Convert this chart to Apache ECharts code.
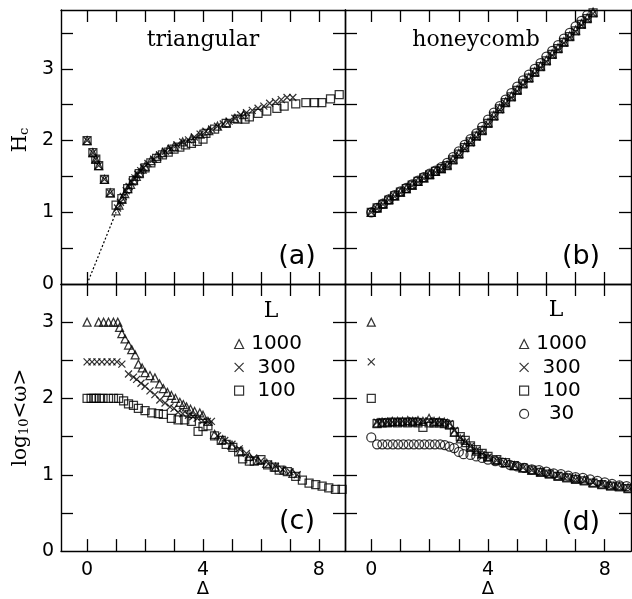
<!DOCTYPE html>
<html>
<head>
<meta charset="utf-8">
<title>Hc and log10 omega vs Delta</title>
<script src="https://cdn.jsdelivr.net/npm/echarts@6/dist/echarts.min.js"></script>
<style>
html, body { margin: 0; padding: 0; background: #fff; }
#chart { width: 632px; height: 599px; }
</style>
</head>
<body>
<div id="chart"></div>
<script>
// axis ticks and labels
var tickX = [0, 1, 2, 3, 4, 5, 6, 7, 8];
var labelX = [0, 4, 8];
var tickYTop = [0.5, 1, 1.5, 2, 2.5, 3, 3.5];
var tickYBottom = [0.5, 1, 1.5, 2, 2.5, 3];
var labelY = [0, 1, 2, 3];

// (a) triangular, Hc
var aDelta1000 = [0, 0.2, 0.3, 0.4, 0.6, 0.8, 1.0, 1.1, 1.2, 1.3, 1.4, 1.5, 1.6, 1.7, 1.8, 1.9, 2.0, 2.2, 2.4, 2.6, 2.8, 3.0, 3.3, 3.6, 3.9, 4.2, 4.5, 4.8, 5.1, 5.4];
var aH1000 = [2.0, 1.83, 1.74, 1.65, 1.46, 1.27, 1.02, 1.10, 1.18, 1.26, 1.33, 1.39, 1.45, 1.50, 1.55, 1.60, 1.64, 1.72, 1.78, 1.83, 1.88, 1.92, 1.98, 2.03, 2.09, 2.14, 2.20, 2.25, 2.31, 2.36];
var aDelta300 = [0, 0.2, 0.3, 0.4, 0.6, 0.8, 1.05, 1.15, 1.25, 1.35, 1.45, 1.55, 1.65, 1.75, 1.85, 1.95, 2.1, 2.3, 2.5, 2.7, 2.9, 3.1, 3.3, 3.5, 3.7, 3.9, 4.1, 4.3, 4.5, 4.7, 4.9, 5.1, 5.3, 5.5, 5.7, 5.9, 6.1, 6.3, 6.5, 6.7, 6.9, 7.1];
var aH300 = [2.0, 1.83, 1.74, 1.65, 1.46, 1.27, 1.06, 1.14, 1.22, 1.30, 1.36, 1.42, 1.48, 1.53, 1.58, 1.62, 1.68, 1.74, 1.80, 1.85, 1.89, 1.94, 1.98, 2.01, 2.05, 2.09, 2.13, 2.16, 2.20, 2.23, 2.27, 2.31, 2.36, 2.39, 2.42, 2.45, 2.48, 2.52, 2.54, 2.57, 2.60, 2.60];
var aDelta100 = [0, 0.2, 0.3, 0.4, 0.6, 0.8, 1.0, 1.2, 1.4, 1.6, 1.8, 2.0, 2.2, 2.4, 2.6, 2.8, 3.0, 3.2, 3.4, 3.6, 3.8, 4.0, 4.1, 4.4, 4.8, 5.2, 5.45, 5.6, 5.9, 6.2, 6.55, 6.8, 7.2, 7.55, 7.85, 8.1, 8.4, 8.7];
var aH100 = [2.0, 1.83, 1.74, 1.65, 1.46, 1.27, 1.10, 1.19, 1.33, 1.44, 1.54, 1.62, 1.69, 1.75, 1.80, 1.84, 1.88, 1.91, 1.94, 1.96, 1.99, 2.02, 2.10, 2.16, 2.24, 2.30, 2.30, 2.33, 2.38, 2.41, 2.45, 2.48, 2.51, 2.53, 2.53, 2.53, 2.58, 2.64];
var aGuideDelta = [0, 1];
var aGuideH = [0, 1];

// (b) honeycomb, Hc
var bDelta = [0, 0.2, 0.4, 0.6, 0.8, 1.0, 1.2, 1.4, 1.6, 1.8, 2.0, 2.2, 2.4, 2.6, 2.8, 3.0, 3.2, 3.4, 3.6, 3.8, 4.0, 4.2, 4.4, 4.6, 4.8, 5.0, 5.2, 5.4, 5.6, 5.8, 6.0, 6.2, 6.4, 6.6, 6.8, 7.0, 7.2, 7.4, 7.6, 7.8];
var bH1000 = [1.00, 1.06, 1.12, 1.18, 1.23, 1.28, 1.33, 1.38, 1.43, 1.48, 1.53, 1.57, 1.61, 1.66, 1.74, 1.82, 1.91, 1.99, 2.07, 2.15, 2.25, 2.35, 2.45, 2.54, 2.62, 2.71, 2.80, 2.88, 2.96, 3.04, 3.12, 3.21, 3.29, 3.38, 3.46, 3.54, 3.63, 3.71, 3.79, 3.87];
var bH300 = [1.00, 1.05, 1.11, 1.17, 1.22, 1.27, 1.32, 1.37, 1.42, 1.47, 1.52, 1.56, 1.60, 1.65, 1.72, 1.80, 1.89, 1.97, 2.05, 2.13, 2.23, 2.33, 2.43, 2.52, 2.60, 2.69, 2.78, 2.86, 2.94, 3.02, 3.10, 3.19, 3.27, 3.36, 3.44, 3.52, 3.61, 3.69, 3.77, 3.85];
var bH100 = [1.00, 1.06, 1.11, 1.17, 1.23, 1.28, 1.33, 1.38, 1.43, 1.48, 1.52, 1.57, 1.61, 1.65, 1.73, 1.81, 1.90, 1.98, 2.06, 2.14, 2.24, 2.34, 2.44, 2.53, 2.61, 2.70, 2.79, 2.87, 2.95, 3.03, 3.11, 3.20, 3.28, 3.37, 3.45, 3.53, 3.62, 3.70, 3.78, 3.86];
var bH30 = [1.00, 1.06, 1.12, 1.18, 1.24, 1.29, 1.34, 1.39, 1.44, 1.49, 1.54, 1.58, 1.63, 1.69, 1.77, 1.85, 1.94, 2.02, 2.10, 2.19, 2.29, 2.39, 2.48, 2.57, 2.66, 2.75, 2.84, 2.92, 3.00, 3.08, 3.17, 3.25, 3.33, 3.42, 3.50, 3.59, 3.67, 3.75, 3.83, 3.91];

// (c) triangular, log10<w>
var cDelta1000 = [0, 0.4, 0.57, 0.74, 0.91, 1.06, 1.12, 1.2, 1.31, 1.43, 1.54, 1.66, 1.77, 1.9, 2.0, 2.17, 2.34, 2.5, 2.63, 2.77, 2.91, 3.05, 3.2, 3.32, 3.43, 3.57, 3.71, 3.89, 4.0, 4.17, 4.4, 4.68, 5.0, 5.3, 5.6, 5.9, 6.2, 6.5, 6.8, 7.1];
var cW1000 = [3.0, 3.0, 3.0, 3.0, 3.0, 3.0, 2.93, 2.85, 2.78, 2.70, 2.64, 2.57, 2.45, 2.40, 2.34, 2.30, 2.27, 2.19, 2.13, 2.08, 2.04, 2.0, 1.95, 1.92, 1.89, 1.86, 1.83, 1.81, 1.78, 1.70, 1.53, 1.46, 1.39, 1.31, 1.24, 1.19, 1.15, 1.10, 1.06, 1.02];
var cDelta300 = [0, 0.17, 0.34, 0.51, 0.69, 0.86, 1.03, 1.2, 1.43, 1.6, 1.71, 1.86, 2.0, 2.17, 2.34, 2.51, 2.69, 2.86, 3.0, 3.14, 3.3, 3.5, 3.65, 3.8, 4.0, 4.15, 4.29, 4.5, 4.75, 5.0, 5.25, 5.5, 5.75, 6.0, 6.25, 6.5, 6.75, 7.0, 7.25];
var cW300 = [2.48, 2.48, 2.48, 2.48, 2.48, 2.48, 2.48, 2.45, 2.32, 2.28, 2.25, 2.20, 2.16, 2.10, 2.05, 1.98, 1.94, 1.89, 1.87, 1.82, 1.80, 1.78, 1.76, 1.74, 1.71, 1.70, 1.70, 1.51, 1.45, 1.40, 1.34, 1.28, 1.22, 1.18, 1.14, 1.11, 1.07, 1.04, 1.00];
var cDelta100 = [0, 0.14, 0.23, 0.32, 0.43, 0.55, 0.74, 0.91, 1.09, 1.26, 1.43, 1.6, 1.77, 2.0, 2.23, 2.46, 2.63, 2.91, 3.14, 3.37, 3.6, 3.83, 4.0, 4.17, 4.4, 4.63, 4.8, 5.03, 5.23, 5.37, 5.6, 5.77, 6.0, 6.23, 6.46, 6.63, 6.91, 7.2, 7.43, 7.66, 7.89, 8.11, 8.34, 8.57, 8.8];
var cW100 = [2.0, 2.0, 2.0, 2.0, 2.0, 2.0, 2.0, 2.0, 2.0, 1.97, 1.93, 1.91, 1.87, 1.84, 1.81, 1.80, 1.79, 1.74, 1.72, 1.72, 1.70, 1.57, 1.63, 1.64, 1.51, 1.45, 1.40, 1.36, 1.30, 1.21, 1.18, 1.18, 1.20, 1.13, 1.10, 1.06, 1.04, 0.98, 0.93, 0.89, 0.87, 0.85, 0.83, 0.81, 0.81];

// (d) honeycomb, log10<w>
var dDelta = [0, 0.2, 0.37, 0.55, 0.72, 0.9, 1.07, 1.25, 1.42, 1.6, 1.77, 1.98, 2.15, 2.33, 2.5, 2.68, 2.85, 3.05, 3.22, 3.4, 3.6, 3.8, 4.0, 4.3, 4.6, 4.9, 5.2, 5.5, 5.8, 6.1, 6.4, 6.7, 7.0, 7.3, 7.6, 7.9, 8.2, 8.5, 8.8];
var dW1000 = [3.0, 1.68, 1.69, 1.69, 1.70, 1.70, 1.70, 1.71, 1.70, 1.71, 1.70, 1.74, 1.70, 1.70, 1.69, 1.66, 1.56, 1.47, 1.42, 1.36, 1.31, 1.27, 1.23, 1.19, 1.16, 1.12, 1.09, 1.06, 1.04, 1.02, 0.99, 0.97, 0.95, 0.93, 0.90, 0.88, 0.86, 0.85, 0.83];
var dW300 = [2.48, 1.69, 1.70, 1.69, 1.69, 1.70, 1.70, 1.70, 1.71, 1.70, 1.70, 1.71, 1.70, 1.69, 1.69, 1.67, 1.58, 1.48, 1.43, 1.37, 1.32, 1.27, 1.23, 1.19, 1.15, 1.12, 1.09, 1.06, 1.03, 1.01, 0.99, 0.97, 0.94, 0.92, 0.90, 0.88, 0.86, 0.84, 0.83];
var dW100 = [2.0, 1.67, 1.68, 1.68, 1.69, 1.68, 1.69, 1.68, 1.69, 1.68, 1.62, 1.68, 1.68, 1.68, 1.67, 1.65, 1.56, 1.50, 1.45, 1.38, 1.33, 1.28, 1.24, 1.20, 1.16, 1.12, 1.09, 1.06, 1.03, 1.01, 0.98, 0.96, 0.94, 0.92, 0.89, 0.87, 0.85, 0.84, 0.82];
var dDelta30 = [0, 0.2, 0.38, 0.56, 0.74, 0.92, 1.1, 1.28, 1.46, 1.64, 1.82, 2.0, 2.18, 2.36, 2.52, 2.68, 2.84, 3.0, 3.16, 3.4, 3.6, 3.8, 4.0, 4.25, 4.5, 4.75, 5.0, 5.25, 5.5, 5.75, 6.0, 6.25, 6.5, 6.75, 7.0, 7.25, 7.5, 7.75, 8.0, 8.25, 8.5, 8.75];
var dW30 = [1.49, 1.40, 1.40, 1.40, 1.40, 1.40, 1.40, 1.40, 1.40, 1.40, 1.40, 1.40, 1.40, 1.40, 1.39, 1.37, 1.35, 1.30, 1.27, 1.26, 1.24, 1.22, 1.20, 1.18, 1.16, 1.13, 1.11, 1.09, 1.07, 1.06, 1.04, 1.02, 1.01, 0.99, 0.97, 0.96, 0.94, 0.92, 0.90, 0.88, 0.86, 0.85];

var legendNames = ['1000', '300', '100'];
var legendNamesD = ['1000', '300', '100', '30'];

var numFont = 'DejaVu Sans';
var serifFont = 'DejaVu Serif';
var symTri = 'triangle';
var symCross = 'path://M0,0L10,10M10,0L0,10';
var symSquare = 'rect';
var symCircle = 'circle';

function pts(xs, ys) {
    return xs.map(function (x, i) { return [x, ys[i]]; });
}

var grids = [
    {left: 61, top: 10, width: 284, height: 274},
    {left: 345, top: 10, width: 286, height: 274},
    {left: 61, top: 284, width: 284, height: 274},
    {left: 345, top: 284, width: 286, height: 274}
];

var xAxes = [], yAxes = [];
for (var g = 0; g < 4; g++) {
    var bottomRow = g >= 2;
    var leftCol = g % 2 == 0;
    ['bottom', 'top'].forEach(function (pos) {
        var main = pos == 'bottom';
        xAxes.push({
            type: 'value', gridIndex: g, position: pos, min: -0.9, max: 8.9,
            axisLine: {show: true, onZero: false, lineStyle: {color: '#000', width: 1.4}},
            axisTick: {show: true, inside: true, length: 12, customValues: tickX, lineStyle: {color: '#000', width: 1.3}},
            axisLabel: {show: main && bottomRow, customValues: labelX, margin: 9, color: '#000', fontFamily: numFont, fontSize: 19},
            splitLine: {show: false},
            name: main && bottomRow ? 'Δ' : '',
            nameLocation: 'middle', nameGap: 27,
            nameTextStyle: {color: '#000', fontFamily: numFont, fontSize: 18}
        });
    });
    ['left', 'right'].forEach(function (pos) {
        var main = pos == 'left';
        yAxes.push({
            type: 'value', gridIndex: g, position: pos, min: 0, max: bottomRow ? 3.5 : 3.82,
            axisLine: {show: true, onZero: false, lineStyle: {color: '#000', width: 1.4}},
            axisTick: {show: true, inside: true, length: 12, customValues: bottomRow ? tickYBottom : tickYTop, lineStyle: {color: '#000', width: 1.3}},
            axisLabel: {show: main && leftCol, customValues: labelY, margin: 7, color: '#000', fontFamily: numFont, fontSize: 19},
            splitLine: {show: false},
            name: main && leftCol ? (bottomRow ? 'log{s|10}<ω>' : 'H{s|c}') : '',
            nameLocation: 'middle', nameRotate: 90, nameGap: 30,
            nameTextStyle: {
                color: '#000', fontFamily: serifFont, fontSize: 20,
                padding: bottomRow ? 0 : [0, 0, 0, 14],
                rich: {s: {fontFamily: serifFont, fontSize: 13, verticalAlign: 'bottom', padding: [8, 0, 0, 0]}}
            }
        });
    });
}

function scat(name, g, symbol, size, xs, ys) {
    return {
        type: 'scatter', name: name, xAxisIndex: g * 2, yAxisIndex: g * 2,
        symbol: symbol, symbolSize: size, data: pts(xs, ys),
        itemStyle: {color: 'rgba(0,0,0,0)', borderColor: '#000', borderWidth: 1.25},
        silent: true
    };
}

var series = [
    {
        type: 'line', name: 'guide', xAxisIndex: 0, yAxisIndex: 0, data: pts(aGuideDelta, aGuideH),
        symbol: 'none', silent: true, lineStyle: {color: '#000', width: 1.2, type: [2, 2]}
    },
    scat('a1000', 0, symTri, 8, aDelta1000, aH1000),
    scat('a300', 0, symCross, 7, aDelta300, aH300),
    scat('a100', 0, symSquare, 8, aDelta100, aH100),
    scat('b1000', 1, symTri, 8, bDelta, bH1000),
    scat('b300', 1, symCross, 7, bDelta, bH300),
    scat('b100', 1, symSquare, 8, bDelta, bH100),
    scat('b30', 1, symCircle, 9, bDelta, bH30),
    scat('1000', 2, symTri, 8, cDelta1000, cW1000),
    scat('300', 2, symCross, 7, cDelta300, cW300),
    scat('100', 2, symSquare, 8, cDelta100, cW100),
    scat('1000', 3, symTri, 8, dDelta, dW1000),
    scat('300', 3, symCross, 7, dDelta, dW300),
    scat('100', 3, symSquare, 8, dDelta, dW100),
    scat('30', 3, symCircle, 9, dDelta30, dW30)
];

function legendAt(names, left) {
    return {
        data: names, orient: 'vertical', left: left, top: 329, itemGap: 3.3,
        itemWidth: 9, itemHeight: 9, selectedMode: false,
        itemStyle: {borderWidth: 1.2},
        formatter: '{n|{name}}',
        textStyle: {rich: {n: {width: 56, align: 'center', color: '#000', fontFamily: numFont, fontSize: 20, lineHeight: 20}}}
    };
}

function label(text, x, y, font, size) {
    return {
        type: 'text', x: x, y: y, silent: true,
        style: {text: text, fill: '#000', font: size + 'px "' + font + '"', textAlign: 'center', textVerticalAlign: 'middle'}
    };
}

var chart = echarts.init(document.getElementById('chart'), null, {renderer: 'canvas'});
chart.setOption({
    animation: false,
    backgroundColor: '#fff',
    grid: grids,
    xAxis: xAxes,
    yAxis: yAxes,
    legend: [legendAt(legendNames, 229), legendAt(legendNamesD, 514)],
    graphic: [
        label('triangular', 203, 40, serifFont, 22),
        label('honeycomb', 476, 40, serifFont, 22),
        label('(a)', 297, 257, numFont, 27),
        label('(b)', 581, 257, numFont, 27),
        label('(c)', 297, 522, numFont, 27),
        label('(d)', 581, 523, numFont, 27),
        label('L', 271, 311, serifFont, 22),
        label('L', 556, 310, serifFont, 22)
    ],
    series: series
});
</script>
</body>
</html>
